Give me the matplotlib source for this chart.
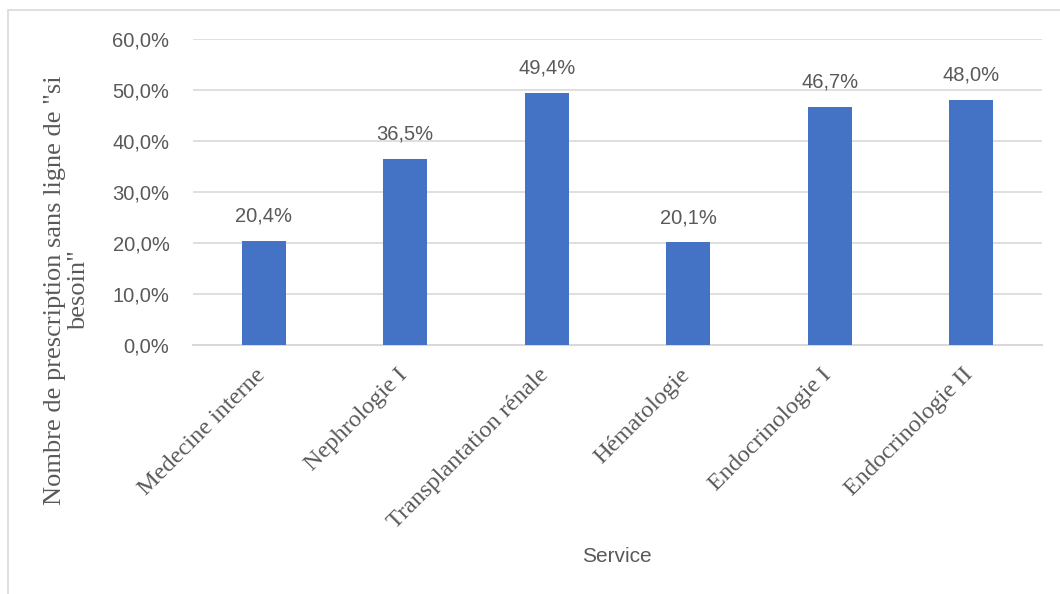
import matplotlib
matplotlib.use('Agg')
import matplotlib.pyplot as plt
import matplotlib.patches as patches
from matplotlib.ticker import FuncFormatter, MultipleLocator
from matplotlib.transforms import ScaledTranslation

# données
services = ['Medecine interne', 'Nephrologie I', 'Transplantation rénale',
            'Hématologie', 'Endocrinologie I', 'Endocrinologie II']
pourcentages = [20.4, 36.5, 49.4, 20.1, 46.7, 48.0]

# couleurs
bar_color = '#4472C4'
text_color = '#595959'
grid_color = '#D9D9D9'

W, H = 1060, 594
fig = plt.figure(figsize=(W / 100, H / 100), dpi=100)
ax = fig.add_axes([193 / W, 1 - 345 / H, (1042 - 193) / W, (345 - 39) / H])

x = list(range(len(services)))
bars = ax.bar(x, pourcentages, width=0.31, color=bar_color, zorder=3)

ax.set_xlim(-0.5, len(services) - 0.5)
ax.set_ylim(0, 60)
ax.yaxis.set_major_locator(MultipleLocator(10))
ax.yaxis.set_major_formatter(FuncFormatter(lambda v, p: f"{v:.1f}%".replace('.', ',')))
ax.grid(axis='y', color=grid_color, linewidth=1.2, zorder=0)
for s in ['top', 'right', 'left']:
    ax.spines[s].set_visible(False)
ax.spines['bottom'].set_color(grid_color)
ax.spines['bottom'].set_linewidth(1.5)

ax.tick_params(axis='y', length=0, pad=17, labelsize=14.5, labelcolor=text_color)
ax.tick_params(axis='x', length=0, pad=14)
for lab in ax.get_yticklabels():
    lab.set_family('Liberation Sans')

ax.set_xticks(x)
ax.set_xticklabels(services, rotation=45, ha='right', va='top',
                   fontsize=17.5, family='Liberation Serif', color=text_color)
# petit décalage vers la droite des libellés
shift = ScaledTranslation(6 / 100, 0, fig.dpi_scale_trans)
for lab in ax.get_xticklabels():
    lab.set_transform(lab.get_transform() + shift)

# étiquettes de données
for b, v in zip(bars, pourcentages):
    ax.annotate(f"{v:.1f}%".replace('.', ','), (b.get_x() + b.get_width() / 2, v),
                xytext=(0, 11), textcoords='offset points', ha='center', va='bottom',
                fontsize=14.5, family='Liberation Sans', color=text_color)

# titres des axes
fig.text(67 / W, 1 - 290 / H, 'Nombre de prescription sans ligne de "si\nbesoin"',
         rotation=90, ha='center', va='center', multialignment='center',
         fontsize=19, family='Liberation Serif', color=text_color, linespacing=1.15)
fig.text(617 / W, 1 - 556 / H, 'Service', ha='center', va='center',
         fontsize=15, family='Liberation Sans', color=text_color)

# cadre du graphique
frame = patches.Rectangle((8 / W, -0.1), 1.2, 1.1 - 10 / H, transform=fig.transFigure,
                          fill=False, edgecolor=grid_color, linewidth=1.2)
fig.patches.append(frame)

fig.savefig('out.png', dpi=100)
